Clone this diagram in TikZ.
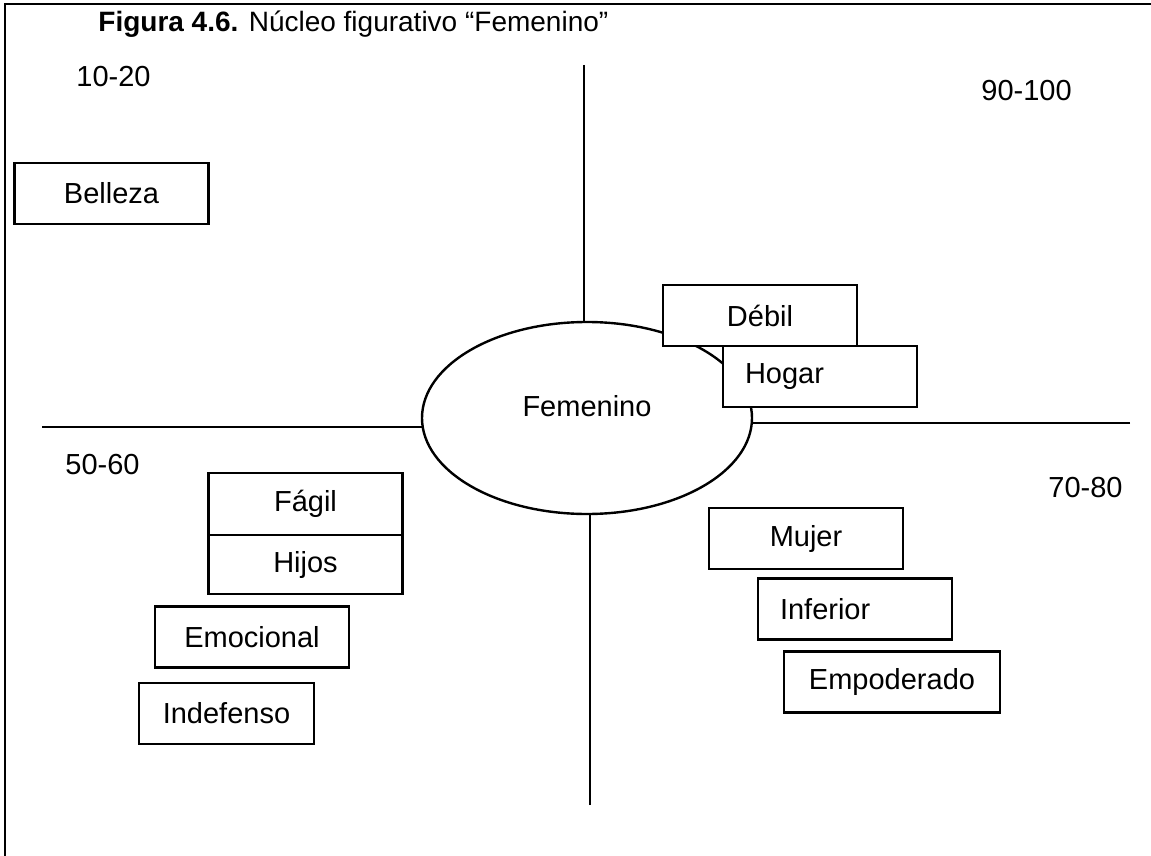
\documentclass[tikz,border=0pt]{standalone}
\usepackage{fontspec}
\setmainfont{Liberation Sans}
\usetikzlibrary{shapes.geometric}

\begin{document}
\begin{tikzpicture}[x=0.5pt, y=-0.5pt,
  every node/.style={font=\fontsize{14.5}{17}\selectfont},
  rango/.style={anchor=base west, inner sep=0pt},
  caja/.style={draw, fill=white, line width=1.1pt, minimum width=97pt,
    minimum height=30.5pt, inner sep=0pt, outer sep=0pt},
  cajaizq/.style={caja, text width=75pt, align=left},
  eje/.style={line width=1.2pt}]

\useasboundingbox (0,0) rectangle (1151,856);

% Marco
\draw[line width=1.2pt] (1151,4) -- (5,4) -- (5,856);

% Titulo
\node[rango, font=\fontsize{14}{17}\selectfont] (titulo) at (98,32)
  {\textbf{Figura 4.6.} Núcleo figurativo “Femenino”};

% Rangos
\node[rango] (r1020) at (76,87) {10-20};
\node[rango] (r90100) at (981,101) {90-100};
\node[rango] (r5060) at (65,474) {50-60};
\node[rango] (r7080) at (1048,497) {70-80};

% Nucleo central
\node[draw, ellipse, line width=1.2pt, minimum width=165pt, minimum height=96pt,
  inner sep=0pt, outer sep=0pt] (nucleo) at (587,418) {};
\node (femenino) at ([yshift=6pt]nucleo.center) {Femenino};

% Ejes
\coordinate (ejeN) at (584,65);
\coordinate (ejeS) at (590,805);
\coordinate (ejeO) at (42,427);
\coordinate (ejeE) at (1130,423);
\draw[eje] (ejeN) -- (ejeN |- nucleo.north);
\draw[eje] (ejeS) -- (ejeS |- nucleo.south);
\draw[eje] (ejeO) -- (ejeO -| nucleo.west);
\draw[eje] (ejeE) -- (ejeE -| nucleo.east);

% Cajas
\node[caja] (belleza) at (111.5,193.5) {Belleza};
\node[caja] (debil) at (760,315.5) {Débil};
\node[cajaizq] (hogar) at (820,376.5) {Hogar};
\node[caja, minimum height=31pt] (fagil) at (305.5,504) {Fágil};
\node[caja, minimum height=29.5pt] (hijos) at (305.5,564.5) {Hijos};
\node[caja] (emocional) at (252,637) {Emocional};
\node[caja, minimum width=87.5pt] (indefenso) at (226.5,713.5) {Indefenso};
\node[caja] (mujer) at (806,538.5) {Mujer};
\node[cajaizq] (inferior) at (855,609) {Inferior};
\node[caja, minimum width=108pt] (empoderado) at (892,682) {Empoderado};

\end{tikzpicture}
\end{document}
